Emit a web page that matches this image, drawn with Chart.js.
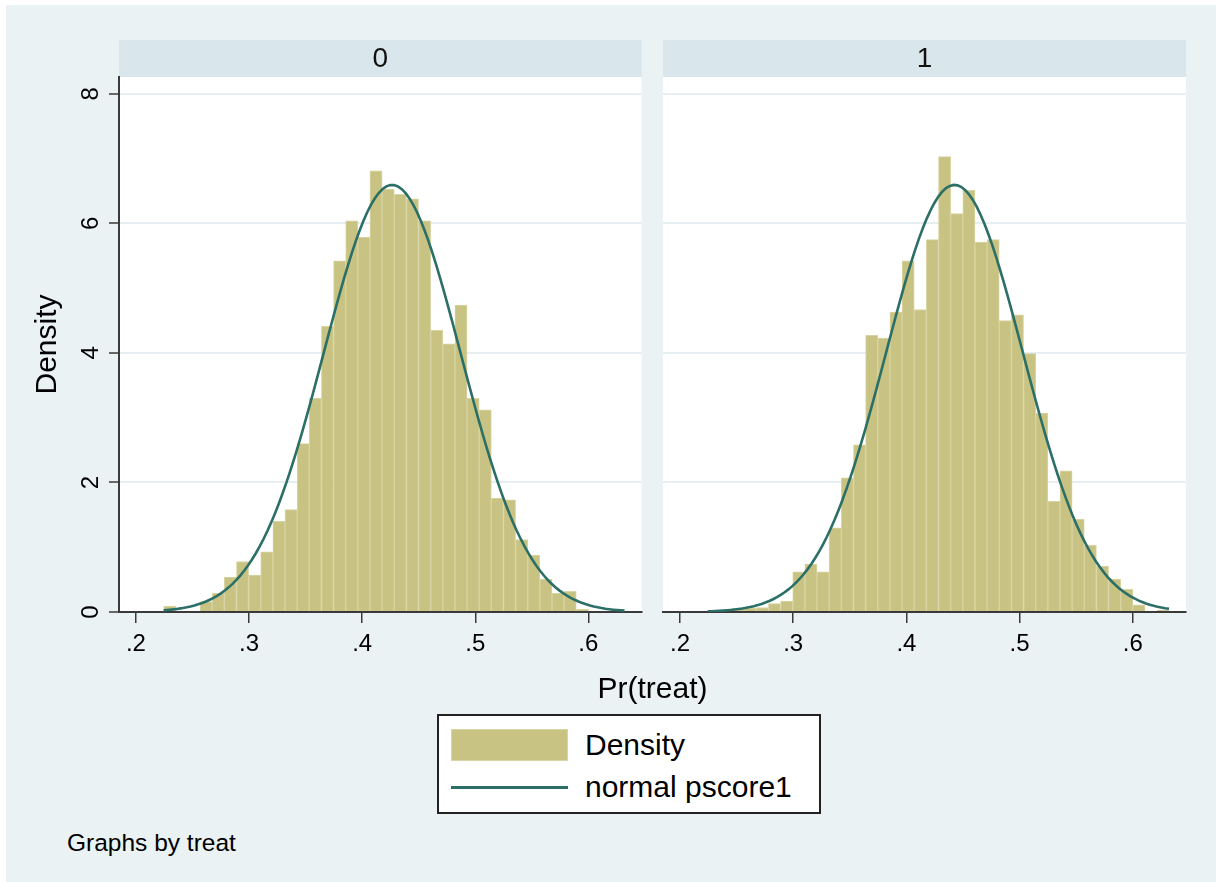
<!DOCTYPE html>
<html>
<head>
<meta charset="utf-8">
<script src="https://cdn.jsdelivr.net/npm/chart.js@4.4.1/dist/chart.umd.min.js"></script>
<style>
  html, body { margin: 0; padding: 0; background: #ffffff; }
  body { width: 1216px; height: 882px; position: relative; overflow: hidden;
         font-family: "Liberation Sans", Arial, sans-serif; color: #000; }
  #bg { position: absolute; left: 6px; top: 5px; right: 0; bottom: 0; background: #eaf2f3; }
  canvas { position: absolute; }
  #c0 { left: 0; top: 0; }
  #c1 { left: 650px; top: 0; }
  #xtitle { position: absolute; left: 0; width: 1305px; top: 668px; text-align: center;
            font-size: 30px; line-height: 40px; }
  #legend { position: absolute; left: 437px; top: 714px; width: 384px; height: 100px;
            box-sizing: border-box; border: 2px solid #222; background: #fff; }
  .item { position: absolute; left: 12px; height: 34px; display: flex; align-items: center;
          font-size: 30px; white-space: nowrap; }
  .item .key { width: 117px; margin-right: 17px; box-sizing: border-box; }
  #note { position: absolute; left: 67px; top: 829px; font-size: 24.5px; line-height: 28px; }
</style>
</head>
<body>
<div id="bg"></div>
<canvas id="c0" width="660" height="700" style="width:660px;height:700px"></canvas>
<canvas id="c1" width="566" height="700" style="width:566px;height:700px"></canvas>
<div id="xtitle">Pr(treat)</div>
<div id="legend"></div>
<div id="note">Graphs by treat</div>
<script>
// Histogram bins shared by both panels
const binStart = 0.2245;
const binWidth = 0.01073;

// Panel labels (treat = 0 / treat = 1)
const panelLabels = ['0', '1'];

// Bin densities, treat = 0
const density0 = [0.09, 0, 0, 0.16, 0.29, 0.54, 0.78, 0.57, 0.93, 1.40,
                  1.58, 2.60, 3.30, 4.41, 5.42, 6.04, 5.79, 6.81, 6.53, 6.45,
                  6.38, 6.04, 4.35, 4.14, 4.74, 3.30, 3.12, 1.76, 1.73, 1.12,
                  0.88, 0.51, 0.29, 0.32, 0.04, 0, 0, 0];
// Bin densities, treat = 1
const density1 = [0, 0, 0.06, 0.06, 0.07, 0.13, 0.17, 0.62, 0.74, 0.62,
                  1.30, 2.07, 2.58, 4.27, 4.23, 4.63, 5.42, 4.67, 5.75, 7.03,
                  6.15, 6.51, 5.71, 5.75, 4.50, 4.59, 3.99, 3.07, 1.71, 2.18,
                  1.43, 1.03, 0.71, 0.51, 0.35, 0.11, 0, 0.03];

// Fitted normal overlay (mean, sd) per panel, over the range of pscore1
const normalMean = [0.4265, 0.4425];
const normalSd = [0.0605, 0.0605];
const pscoreRange = [0.2245, 0.632];

// Axis ticks
const xTicks = [0.2, 0.3, 0.4, 0.5, 0.6];
const yTicks = [0, 2, 4, 6, 8];

const seriesLabels = ['Density', 'normal pscore1'];

const BAR_FILL = '#c9c383';
const BAR_EDGE = '#d9d4a4';
const LINE_COLOR = '#2b6f67';
const STRIP_BG = '#d9e6eb';
const GRID = '#e6eef1';
const AXIS = '#3a3a3a';
const FONT = '"Liberation Sans", Arial, sans-serif';

function barData(values) {
  return values.map((v, k) => ({ x: binStart + (k + 0.5) * binWidth, y: v }));
}

function normalCurve(mu, sd) {
  const pts = [];
  const n = 120;
  for (let i = 0; i <= n; i++) {
    const x = pscoreRange[0] + (pscoreRange[1] - pscoreRange[0]) * i / n;
    const z = (x - mu) / sd;
    pts.push({ x, y: Math.exp(-0.5 * z * z) / (sd * Math.sqrt(2 * Math.PI)) });
  }
  return pts;
}

// Grey strip with the panel label above each plot region, white plot background
const stripPlugin = {
  id: 'strip',
  beforeDraw(chart, args, opts) {
    const { ctx, chartArea: a } = chart;
    ctx.save();
    ctx.fillStyle = STRIP_BG;
    ctx.fillRect(a.left, a.top - opts.height, a.right - a.left, opts.height);
    ctx.fillStyle = '#ffffff';
    ctx.fillRect(a.left, a.top, a.right - a.left, a.bottom - a.top);
    ctx.fillStyle = '#111';
    ctx.font = '28px ' + FONT;
    ctx.textAlign = 'center';
    ctx.textBaseline = 'middle';
    ctx.fillText(opts.text, (a.left + a.right) / 2, a.top - opts.height / 2 + 1);
    ctx.restore();
  }
};

function makePanel(canvasId, panel, values, withYAxis) {
  const ctx = document.getElementById(canvasId);
  const axisWidth = withYAxis ? 119 : 13;
  return new Chart(ctx, {
    type: 'bar',
    data: {
      datasets: [
        {
          type: 'line',
          label: seriesLabels[1],
          data: normalCurve(normalMean[panel], normalSd[panel]),
          borderColor: LINE_COLOR,
          borderWidth: 2.6,
          pointRadius: 0,
          tension: 0,
          fill: false,
          order: 0
        },
        {
          type: 'bar',
          label: seriesLabels[0],
          data: barData(values),
          backgroundColor: BAR_FILL,
          borderColor: BAR_EDGE,
          borderWidth: 1,
          borderSkipped: 'start',
          barPercentage: 1,
          categoryPercentage: 1,
          order: 1
        }
      ]
    },
    options: {
      responsive: false,
      animation: false,
      events: [],
      layout: { padding: { top: 77, left: 0, right: withYAxis ? 18.5 : 30, bottom: 0 } },
      plugins: {
        legend: { display: false },
        tooltip: { enabled: false },
        strip: { text: panelLabels[panel], height: 37 }
      },
      scales: {
        x: {
          type: 'linear',
          position: 'bottom',
          min: 0.185,
          max: 0.647,
          offset: false,
          afterBuildTicks(scale) { scale.ticks = xTicks.map(v => ({ value: v })); },
          ticks: {
            font: { family: FONT, size: 24 },
            color: '#000',
            padding: 7,
            maxRotation: 0,
            callback: v => v.toFixed(1).replace(/^0/, '')
          },
          grid: { display: true, drawOnChartArea: false, drawTicks: true, tickLength: 11,
                  color: AXIS, lineWidth: 1.5, offset: false },
          border: { display: true, color: AXIS, width: 2 },
          afterFit(scale) { scale.height = 88; }
        },
        y: {
          type: 'linear',
          position: 'left',
          min: 0,
          max: 8.26,
          afterBuildTicks(scale) { scale.ticks = yTicks.map(v => ({ value: v })); },
          ticks: {
            display: withYAxis,
            font: { family: FONT, size: 24 },
            color: '#000',
            minRotation: 90,
            maxRotation: 90,
            crossAlign: 'center',
            padding: 11
          },
          grid: { color: GRID, lineWidth: 2, drawTicks: withYAxis, tickLength: 10,
                  tickColor: AXIS, tickWidth: 1.5 },
          border: { display: withYAxis, color: AXIS, width: 2 },
          title: {
            display: withYAxis,
            text: 'Density',
            font: { family: FONT, size: 30 },
            color: '#000',
            padding: { top: 30, bottom: 0 }
          },
          afterFit(scale) { scale.width = axisWidth; }
        }
      }
    },
    plugins: [stripPlugin]
  });
}

const chart0 = makePanel('c0', 0, density0, true);
const chart1 = makePanel('c1', 1, density1, false);

// Legend built from the first panel's datasets
const legend = document.getElementById('legend');
const ds = chart0.data.datasets;
const barDs = ds.find(d => d.type === 'bar');
const lineDs = ds.find(d => d.type === 'line');
[
  { ds: barDs, top: 12 },
  { ds: lineDs, top: 54 }
].forEach(({ ds: d, top }) => {
  const item = document.createElement('div');
  item.className = 'item';
  item.style.top = top + 'px';
  const key = document.createElement('div');
  key.className = 'key';
  if (d.type === 'bar') {
    key.style.height = '32px';
    key.style.background = d.backgroundColor;
    key.style.border = '1px solid ' + d.borderColor;
  } else {
    key.style.height = '3px';
    key.style.background = d.borderColor;
  }
  const label = document.createElement('span');
  label.textContent = d.label;
  item.appendChild(key);
  item.appendChild(label);
  legend.appendChild(item);
});
</script>
</body>
</html>
